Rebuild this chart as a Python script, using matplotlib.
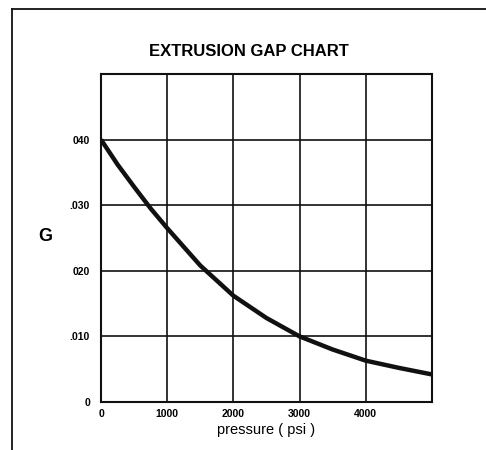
import matplotlib
matplotlib.use("Agg")
import matplotlib.pyplot as plt
from matplotlib.lines import Line2D

pressure = [0, 250, 500, 750, 1000, 1500, 2000, 2500, 3000, 3500, 4000, 4500, 5000]
gap = [0.040, 0.0362, 0.0328, 0.0295, 0.0265, 0.0208, 0.0162, 0.0128, 0.0100, 0.0080, 0.0063, 0.0052, 0.0042]

xticks = [0, 1000, 2000, 3000, 4000]
xticklabels = ["0", "1000", "2000", "3000", "4000"]
yticks = [0, 0.010, 0.020, 0.030, 0.040]
yticklabels = ["0", ".010", "020", ".030", "040"]

plt.rcParams['font.family'] = ['Liberation Sans', 'DejaVu Sans']

W, H = 486, 450
fig = plt.figure(figsize=(W / 100, H / 100), dpi=100)
ax = fig.add_axes([101 / W, 1 - 402 / H, (432 - 101) / W, (402 - 74) / H])

ax.plot(pressure, gap, color="#111111", lw=3.2, solid_capstyle="butt",
        solid_joinstyle="round", zorder=3)
ax.set_xlim(0, 5000)
ax.set_ylim(0, 0.050)
ax.set_xticks(xticks)
ax.set_xticklabels(xticklabels, fontsize=7.5, fontweight="bold")
ax.set_yticks(yticks)
ax.set_yticklabels(yticklabels, fontsize=7.5, fontweight="bold")
ax.tick_params(axis="x", length=0, pad=5)
ax.tick_params(axis="y", length=0, pad=8)
ax.grid(True, color="#111111", lw=1.2)
for s in ax.spines.values():
    s.set_linewidth(1.5)
    s.set_color("#111111")

ax.set_xlabel("pressure ( psi )", fontsize=10.5, labelpad=3)

fig.text(249 / W, 1 - 52 / H, "EXTRUSION GAP CHART", fontsize=12, fontweight="bold",
         ha="center", va="center")
fig.text(45 / W, 1 - 237 / H, "G", fontsize=13, fontweight="bold", ha="center", va="center")

fig.add_artist(Line2D([12 / W, 1.0], [1 - 9 / H, 1 - 9 / H], color="#111111", lw=1.3,
                      transform=fig.transFigure))
fig.add_artist(Line2D([12 / W, 12 / W], [0.0, 1 - 9 / H], color="#111111", lw=1.3,
                      transform=fig.transFigure))

fig.savefig("out.png", dpi=100)
